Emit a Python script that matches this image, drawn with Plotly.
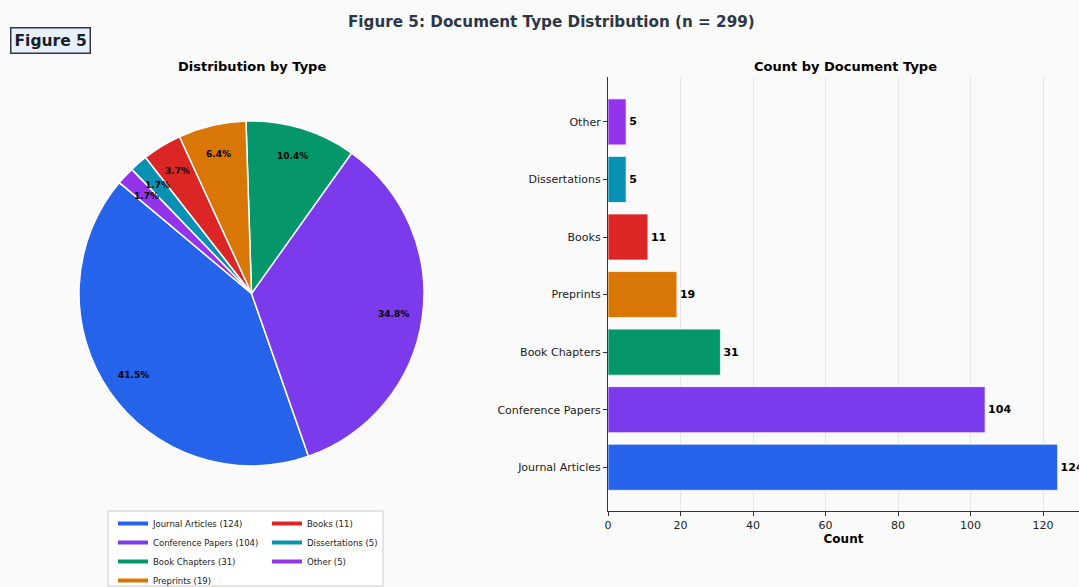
import math
import plotly.graph_objects as go

# Document types, counts and colours (pie order, counter-clockwise from the start angle)
doc_types = ["Journal Articles", "Conference Papers", "Book Chapters", "Preprints",
             "Books", "Dissertations", "Other"]
counts = [124, 104, 31, 19, 11, 5, 5]
colors = ["#2563eb", "#7c3aed", "#059669", "#d97706", "#dc2626", "#0891b2", "#9333ea"]
x_ticks = [0, 20, 40, 60, 80, 100, 120]

W, H = 1079, 587
BG = "#fafafa"
FONT = "DejaVu Sans"

total = sum(counts)
start_angle = 140.0          # degrees, counter-clockwise from +x
pct_dist = 0.83

# pie placement (pixel centre / radius -> paper fractions)
cx, cy, r = 251.5, 293.5, 172.5
pie_x = [(cx - r) / W, (cx + r) / W]
pie_y = [(H - cy - r) / H, (H - cy + r) / H]

fig = go.Figure()

# plotly's counter-clockwise pies end the first wedge at the rotation angle,
# so shift by the first wedge's sweep to make it start at start_angle
first_sweep = 360.0 * counts[0] / total
fig.add_trace(go.Pie(
    labels=doc_types, values=counts, sort=False, direction="counterclockwise",
    rotation=90 - start_angle - first_sweep,
    marker=dict(colors=colors, line=dict(color="white", width=1.5)),
    textinfo="none", hoverinfo="label+value+percent", showlegend=False,
    domain=dict(x=pie_x, y=pie_y),
))

# percentage labels placed at each wedge's mid-angle (on an invisible square axis pair)
pct_annotations = []
acc = 0.0
for v in counts:
    mid = math.radians(start_angle + 360.0 * (acc + v / 2) / total)
    pct_annotations.append(dict(
        x=pct_dist * math.cos(mid), y=pct_dist * math.sin(mid), xref="x3", yref="y3",
        text=f"<b>{100 * v / total:.1f}%</b>", showarrow=False,
        xanchor="center", yanchor="middle",
        font=dict(family=FONT, size=9, color="black"),
    ))
    acc += v

# horizontal bars
fig.add_trace(go.Bar(
    x=counts, y=doc_types, orientation="h", width=0.8, xaxis="x2", yaxis="y2",
    marker=dict(color=colors, line=dict(color="rgba(255,255,255,0.7)", width=1)),
    text=[str(c) for c in counts], textposition="outside", cliponaxis=False,
    constraintext="none",
    textfont=dict(family=FONT, size=11, color="black", weight="bold"),
    showlegend=False, hoverinfo="x+y",
))

# legend entries in two columns
col1 = [0, 1, 2, 3]
col2 = [4, 5, 6]
for idx_list, lg in ((col1, "legend"), (col2, "legend2")):
    for i in idx_list:
        fig.add_trace(go.Scatter(
            x=[None], y=[None], mode="lines", name=f"{doc_types[i]} ({counts[i]})",
            line=dict(color=colors[i], width=4), legend=lg, xaxis="x3", yaxis="y3",
            hoverinfo="skip",
        ))

bar_left = 608 / W
bar_bottom = (H - 511) / H
bar_top = (H - 77) / H

leg_font = dict(family=FONT, size=8.5, color="#222")
fig.update_layout(
    width=W, height=H, margin=dict(l=0, r=0, t=0, b=0, autoexpand=False),
    paper_bgcolor=BG, plot_bgcolor=BG,
    font=dict(family=FONT, color="#222"),
    xaxis3=dict(domain=pie_x, range=[-1, 1], visible=False, fixedrange=True,
                automargin=False),
    yaxis3=dict(domain=pie_y, range=[-1, 1], visible=False, fixedrange=True, anchor="x3",
                automargin=False),
    xaxis2=dict(domain=[bar_left, 1.0], range=[0, 129.9], anchor="y2", automargin=False,
                tickvals=x_ticks, ticks="outside", ticklen=4, tickcolor="#333",
                showline=True, linecolor="#333", linewidth=1.2,
                showgrid=True, gridcolor="#e6e6e6", gridwidth=1, zeroline=False,
                tickfont=dict(family=FONT, size=11, color="#222"),
                title=dict(text="<b>Count</b>", font=dict(family=FONT, size=12, color="black"),
                           standoff=3)),
    yaxis2=dict(domain=[bar_bottom, bar_top], range=[-0.76, 6.78], anchor="x2",
                automargin=False,
                type="category", ticks="outside", ticklen=4, tickcolor="#333",
                showline=True, linecolor="#333", linewidth=1.2, showgrid=False,
                tickfont=dict(family=FONT, size=11, color="#222")),
    legend=dict(x=113 / W, y=(H - 509) / H, xanchor="left", yanchor="top",
                bgcolor="rgba(0,0,0,0)", font=leg_font, orientation="v",
                itemwidth=30, tracegroupgap=0),
    legend2=dict(x=267 / W, y=(H - 509) / H, xanchor="left", yanchor="top",
                 bgcolor="rgba(0,0,0,0)", font=leg_font, orientation="v",
                 itemwidth=30, tracegroupgap=0),
    shapes=[dict(type="rect", xref="paper", yref="paper",
                 x0=108 / W, x1=383 / W, y0=(H - 586) / H, y1=(H - 511) / H,
                 line=dict(color="#cccccc", width=1), fillcolor="white", layer="below")],
    annotations=[
        dict(text="<b>Figure 5: Document Type Distribution (n = 299)</b>",
             x=551 / W, y=(H - 22) / H, xref="paper", yref="paper", showarrow=False,
             xanchor="center", yanchor="middle",
             font=dict(family=FONT, size=15.2, color="#2d3748")),
        dict(text="<b>Figure 5</b>", x=50 / W, y=(H - 40) / H, xref="paper", yref="paper",
             showarrow=False, xanchor="center", yanchor="middle",
             font=dict(family=FONT, size=15.5, color="#1a202c"),
             bgcolor="#e8f0f8", bordercolor="#2d3748", borderwidth=1.5, borderpad=3),
        dict(text="<b>Distribution by Type</b>", x=252 / W, y=(H - 67) / H,
             xref="paper", yref="paper", showarrow=False, xanchor="center", yanchor="middle",
             font=dict(family=FONT, size=13, color="black")),
        dict(text="<b>Count by Document Type</b>", x=845 / W, y=(H - 67) / H,
             xref="paper", yref="paper", showarrow=False, xanchor="center", yanchor="middle",
             font=dict(family=FONT, size=13, color="black")),
    ] + pct_annotations,
)

fig.write_html("out.html")
